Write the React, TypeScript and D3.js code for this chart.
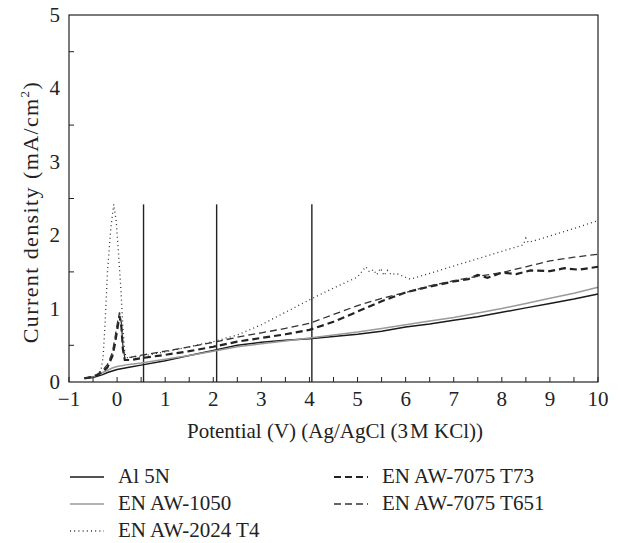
import React from "react";
import * as d3 from "d3";

type Pt = [number, number];

const al5N: Pt[] = [
  [-0.68, 0.05], [-0.5, 0.06], [-0.4, 0.08], [-0.3, 0.1], [-0.2, 0.13], [-0.1, 0.15], [0, 0.17],
  [0.25, 0.2], [0.5, 0.23], [1, 0.29], [1.5, 0.36], [2, 0.43], [2.5, 0.5], [3, 0.54],
  [3.5, 0.57], [4, 0.59], [4.5, 0.62], [5, 0.65], [5.5, 0.69], [6, 0.75], [6.5, 0.79],
  [7, 0.84], [7.5, 0.89], [8, 0.95], [8.5, 1.01], [9, 1.07], [9.5, 1.13], [10, 1.2],
];

const aw1050: Pt[] = [
  [-0.68, 0.05], [-0.5, 0.07], [-0.4, 0.1], [-0.3, 0.13], [-0.2, 0.16], [-0.1, 0.19], [0, 0.21],
  [0.25, 0.24], [0.5, 0.26], [1, 0.31], [1.5, 0.36], [2, 0.42], [2.5, 0.48], [3, 0.52],
  [3.5, 0.56], [4, 0.6], [4.5, 0.64], [5, 0.68], [5.5, 0.73], [6, 0.78], [6.5, 0.83],
  [7, 0.88], [7.5, 0.94], [8, 1.0], [8.5, 1.07], [9, 1.14], [9.5, 1.21], [10, 1.29],
];

const aw2024T4: Pt[] = [
  [-0.68, 0.05], [-0.5, 0.07], [-0.4, 0.1], [-0.33, 0.18], [-0.29, 0.35], [-0.25, 0.8],
  [-0.2, 1.5], [-0.13, 2.1], [-0.07, 2.42], [-0.02, 2.2], [0.03, 1.75], [0.08, 1.25],
  [0.12, 0.75], [0.16, 0.4], [0.2, 0.33], [0.5, 0.35], [1, 0.41], [1.5, 0.48], [2, 0.55],
  [2.5, 0.64], [3, 0.78], [3.5, 0.95], [4, 1.12], [4.5, 1.28], [5, 1.43], [5.17, 1.57],
  [5.25, 1.5], [5.33, 1.53], [5.4, 1.46], [5.48, 1.55], [5.55, 1.45], [5.62, 1.52],
  [5.7, 1.46], [5.8, 1.48], [6.1, 1.4], [6.5, 1.48], [7, 1.58], [7.5, 1.68], [8, 1.78],
  [8.45, 1.87], [8.5, 1.96], [8.55, 1.9], [9, 1.99], [9.5, 2.09], [10, 2.2],
];

const aw7075T73: Pt[] = [
  [-0.68, 0.05], [-0.5, 0.07], [-0.4, 0.1], [-0.3, 0.14], [-0.2, 0.2], [-0.1, 0.35],
  [-0.05, 0.5], [0, 0.7], [0.05, 0.9], [0.09, 0.75], [0.12, 0.45], [0.16, 0.3],
  [0.3, 0.3], [0.55, 0.33], [1, 0.37], [1.5, 0.42], [2, 0.48], [2.5, 0.55], [3, 0.6],
  [3.5, 0.65], [4, 0.71], [4.5, 0.82], [5, 0.96], [5.5, 1.1], [6, 1.22], [6.5, 1.3],
  [7, 1.37], [7.3, 1.4], [7.5, 1.46], [7.7, 1.42], [8, 1.49], [8.3, 1.47], [8.6, 1.52],
  [9, 1.51], [9.3, 1.55], [9.6, 1.53], [10, 1.57],
];

const aw7075T651: Pt[] = [
  [-0.68, 0.05], [-0.5, 0.08], [-0.4, 0.11], [-0.3, 0.16], [-0.2, 0.24], [-0.1, 0.4],
  [-0.05, 0.58], [0, 0.78], [0.05, 0.95], [0.09, 0.8], [0.12, 0.5], [0.16, 0.33],
  [0.3, 0.34], [0.55, 0.37], [1, 0.42], [1.5, 0.48], [2, 0.54], [2.5, 0.61], [3, 0.67],
  [3.5, 0.73], [4, 0.8], [4.5, 0.92], [5, 1.04], [5.5, 1.14], [6, 1.22], [6.5, 1.31],
  [7, 1.38], [7.5, 1.44], [8, 1.49], [8.5, 1.57], [9, 1.65], [9.5, 1.7], [10, 1.74],
];

const markerLines: number[] = [0.55, 2.07, 4.05];
const markerTop = 2.42;

const xTickLabels: number[] = [-1, 0, 1, 2, 3, 4, 5, 6, 7, 8, 9, 10];
const yTickLabels: number[] = [0, 1, 2, 3, 4, 5];

const seriesNames: string[] = [
  "Al 5N", "EN AW-1050", "EN AW-2024 T4", "EN AW-7075 T73", "EN AW-7075 T651",
];

const FONT = "'Liberation Serif', 'DejaVu Serif', serif";
const FS = 21;

export default function App() {
  const W = 618, H = 543;
  const L = 69, R = 598, T = 15, B = 382;
  const x = d3.scaleLinear().domain([-1, 10]).range([L, R]);
  const y = d3.scaleLinear().domain([0, 5]).range([B, T]);
  const line = d3.line<Pt>().x(d => x(d[0])).y(d => y(d[1]));

  const styles = [
    { stroke: "#1a1a1a", width: 1.5, dash: "" },
    { stroke: "#9a9a9a", width: 1.5, dash: "" },
    { stroke: "#333", width: 1.3, dash: "1,3.2" },
    { stroke: "#222", width: 2.2, dash: "7,4" },
    { stroke: "#333", width: 1.3, dash: "7,4" },
  ];
  const data = [al5N, aw1050, aw2024T4, aw7075T73, aw7075T651];

  const xMinor = d3.range(-1, 10.01, 0.5);
  const yMinor = [0.5, 1.5, 2.5, 3.5, 4.5];

  const legend = [
    { i: 0, x: 70, y: 477 },
    { i: 1, x: 70, y: 504 },
    { i: 2, x: 70, y: 531 },
    { i: 3, x: 334, y: 477 },
    { i: 4, x: 334, y: 504 },
  ];

  const ts: React.CSSProperties = { fontFamily: FONT };

  return (
    <svg width={W} height={H} style={{ position: "absolute", left: 0, top: 0, background: "#fff" }}
      fontFamily={FONT}>
      <rect x={0} y={0} width={W} height={H} fill="#fff" />
      {markerLines.map(v => (
        <line key={v} x1={x(v)} x2={x(v)} y1={y(markerTop)} y2={y(0)} stroke="#222" strokeWidth={1.4} />
      ))}
      {data.map((d, i) => (
        <path key={i} d={line(d) || ""} fill="none" stroke={styles[i].stroke}
          strokeWidth={styles[i].width} strokeDasharray={styles[i].dash || undefined} />
      ))}
      <rect x={L} y={T} width={R - L} height={B - T} fill="none" stroke="#222" strokeWidth={1.2} />
      {xMinor.map(v => (
        <line key={"xt" + v} x1={x(v)} x2={x(v)} y1={B} y2={B - 5} stroke="#222" strokeWidth={1} />
      ))}
      {yMinor.map(v => (
        <line key={"yt" + v} x1={L} x2={L + 5} y1={y(v)} y2={y(v)} stroke="#222" strokeWidth={1} />
      ))}
      {xTickLabels.map(v => (
        <text key={"xl" + v} x={x(v)} y={406} textAnchor="middle" fontSize={FS} fill="#222" style={ts}>
          {v < 0 ? "\u2212" + Math.abs(v) : v}
        </text>
      ))}
      {yTickLabels.map(v => (
        <text key={"yl" + v} x={60} y={y(v) + 7} textAnchor="end" fontSize={FS} fill="#222" style={ts}>{v}</text>
      ))}
      <text transform={`translate(38,212) rotate(-90)`} textAnchor="middle" fontSize={22} fill="#222"
        style={{ ...ts, letterSpacing: "1.4px" }}>
        Current density (mA/cm<tspan dy={-9} fontSize={13}>2</tspan><tspan dy={9}>)</tspan>
      </text>
      <text x={335} y={438} textAnchor="middle" fontSize={FS} fill="#222" style={ts}>
        Potential (V) (Ag/AgCl (3<tspan dx={2}>M KCl))</tspan>
      </text>
      {legend.map(({ i, x: lx, y: ly }) => (
        <g key={"lg" + i}>
          <line x1={lx} x2={lx + 34} y1={ly} y2={ly} stroke={styles[i].stroke}
            strokeWidth={styles[i].width} strokeDasharray={styles[i].dash || undefined} />
          <text x={lx + 48} y={ly + 6} fontSize={FS} fill="#222" style={ts}>{seriesNames[i]}</text>
        </g>
      ))}
    </svg>
  );
}
